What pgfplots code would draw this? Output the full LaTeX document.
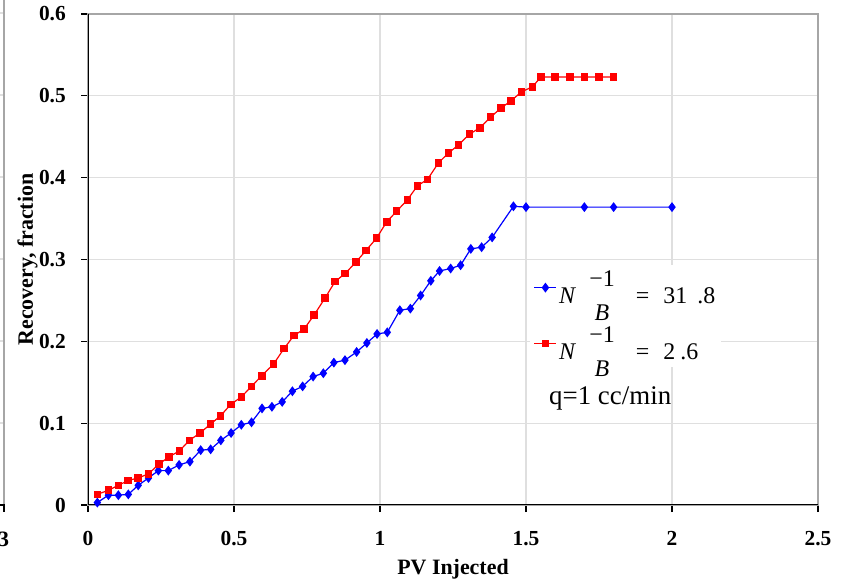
\documentclass[border=0pt]{standalone}
\usepackage{fontspec}
\setmainfont{Liberation Serif}
\usepackage{amsmath}
\usepackage{pgfplots}
\pgfplotsset{compat=1.18}
\pgfplotstableread{
x y
0.032 0.003
0.070 0.012
0.104 0.012
0.138 0.013
0.172 0.024
0.207 0.033
0.241 0.042
0.275 0.042
0.312 0.049
0.349 0.053
0.386 0.067
0.420 0.068
0.455 0.079
0.490 0.088
0.525 0.098
0.560 0.101
0.596 0.118
0.630 0.120
0.665 0.126
0.700 0.139
0.735 0.145
0.771 0.157
0.806 0.161
0.842 0.174
0.880 0.177
0.920 0.187
0.955 0.198
0.990 0.209
1.025 0.211
1.068 0.238
1.104 0.240
1.139 0.256
1.174 0.274
1.204 0.286
1.242 0.289
1.276 0.293
1.311 0.313
1.348 0.315
1.384 0.327
1.457 0.365
1.500 0.364
1.700 0.364
1.800 0.364
2.000 0.364
}\bluedata
\pgfplotstableread{
x y
0.032 0.013
0.070 0.018
0.104 0.024
0.138 0.030
0.172 0.033
0.207 0.038
0.243 0.050
0.278 0.059
0.313 0.066
0.347 0.079
0.384 0.088
0.420 0.099
0.454 0.109
0.489 0.123
0.525 0.132
0.560 0.145
0.595 0.158
0.635 0.172
0.671 0.191
0.705 0.207
0.740 0.215
0.774 0.232
0.812 0.253
0.846 0.273
0.881 0.283
0.918 0.297
0.952 0.311
0.988 0.326
1.023 0.346
1.057 0.359
1.094 0.373
1.128 0.390
1.163 0.398
1.200 0.418
1.234 0.430
1.269 0.440
1.306 0.453
1.342 0.461
1.379 0.474
1.414 0.485
1.449 0.494
1.485 0.505
1.522 0.511
1.551 0.523
1.600 0.523
1.650 0.523
1.700 0.523
1.750 0.523
1.800 0.523
}\reddata
\begin{document}
\begin{tikzpicture}
\path[use as bounding box] (0,0) rectangle (850bp,586bp);
% fragment of the neighbouring chart at the left edge
\foreach \yy in {82,164,246,328,410,492} {\draw[gray!25, line width=1.2bp] (0,81bp+\yy bp) -- (4bp,81bp+\yy bp);}
\draw[gray!70, line width=1.2bp] (4bp,586bp) -- (4bp,81bp);
\draw[black, line width=1.2bp] (0,81bp) -- (4bp,81bp) -- (4bp,74bp);
\node[font=\bfseries\fontsize{22}{25}\selectfont, inner sep=0, anchor=north] at (3.5bp,54bp) {3};
\begin{axis}[
  at={(88bp,81bp)}, anchor=south west,
  scale only axis, width=730bp, height=491bp,
  xmin=0, xmax=2.5, ymin=0, ymax=0.6,
  xtick={0,0.5,1,1.5,2,2.5}, xticklabels={0,0.5,1,1.5,2,2.5},
  ytick={0,0.1,0.2,0.3,0.4,0.5,0.6}, yticklabels={0,0.1,0.2,0.3,0.4,0.5,0.6},
  tick pos=left,
  ticklabel style={font=\bfseries\fontsize{21.5}{25}\selectfont, inner sep=0},
  xticklabel style={anchor=north, yshift=-19bp},
  yticklabel style={anchor=east, xshift=-15bp},
  tick align=outside, major tick length=7bp,
  tick style={black, line width=1.2bp},
  grid=major, major grid style={gray!25, line width=1.2bp},
  axis line style={gray!70, line width=1.2bp},
  xlabel={PV Injected}, ylabel={Recovery, fraction},
  label style={font=\bfseries\fontsize{22}{25}\selectfont},
  xlabel style={at={(axis description cs:0.5,-0.130)}, anchor=center},
  ylabel style={at={(axis description cs:-0.083,0.5)}, anchor=center},
  legend style={at={(0.605,0.49)}, anchor=north west, draw=none, fill=white,
    font=\fontsize{24}{29}\selectfont, row sep=18bp, inner sep=4bp},
  legend cell align=left,
  legend image code/.code={\draw[mark repeat=2,mark phase=2] plot coordinates {(0bp,0bp) (11bp,0bp) (22bp,0bp)};},
]
\draw[black, line width=1.2bp] (rel axis cs:0,1) -- (rel axis cs:0,0) -- (rel axis cs:1,0);
\addplot[blue, line width=1.2bp, mark=diamond*, mark size=4bp, mark options={blue}] table[x=x,y=y] {\bluedata};
\addlegendentry{\textit{N}\hspace{12bp}$\genfrac{}{}{0pt}{0}{\text{−1}}{\textit{B}}$\hspace{20bp}=\hspace{14bp}31\hspace{10bp}.8}
\addplot[red, line width=1.2bp, mark=square*, mark size=3.2bp, mark options={red}] table[x=x,y=y] {\reddata};
\addlegendentry{\textit{N}\hspace{12bp}$\genfrac{}{}{0pt}{0}{\text{−1}}{\textit{B}}$\hspace{20bp}=\hspace{14bp}2\hspace{5bp}.6}
\node[anchor=west, font=\fontsize{27}{31}\selectfont, inner sep=0] at (rel axis cs:0.6315,0.218) {q=1 cc/min};
\end{axis}
\end{tikzpicture}
\end{document}
